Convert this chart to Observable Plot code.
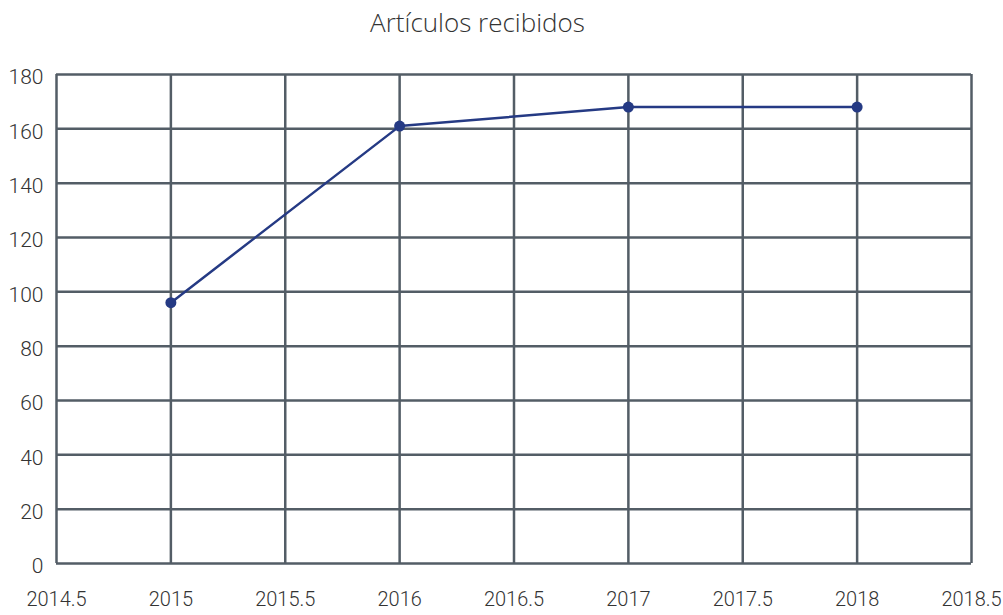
<!DOCTYPE html>
<html>
<head>
<meta charset="utf-8">
<script src="https://cdn.jsdelivr.net/npm/d3@7"></script>
<script src="https://cdn.jsdelivr.net/npm/@observablehq/plot@0.6"></script>
<style>
  body { margin: 0; background: #fff; }
  #title { position: absolute; top: 0; left: 0; width: 955px; height: 50px; text-align: center; font-family: "Open Sans", sans-serif; font-weight: 300; font-size: 26px; color: #333; line-height: 44px; }
  #chart { position: absolute; top: 50px; left: 0; }
  svg text { font-family: Roboto, "Open Sans", sans-serif; font-weight: 300; }
</style>
</head>
<body>
<div id="title">Artículos recibidos</div>
<div id="chart"></div>
<script>
const years = [2015, 2016, 2017, 2018];
const articles = [96, 161, 168, 168];
const xTicks = [2014.5, 2015, 2015.5, 2016, 2016.5, 2017, 2017.5, 2018, 2018.5];
const yTicks = [0, 20, 40, 60, 80, 100, 120, 140, 160, 180];

const data = years.map((y, i) => ({year: y, value: articles[i]}));
const grid = "#535d66";

const chart = Plot.plot({
  width: 1003,
  height: 565,
  marginLeft: 56,
  marginRight: 32,
  marginTop: 24,
  marginBottom: 52,
  style: {fontSize: "21px", color: "#333", background: "white"},
  x: {domain: [2014.5, 2018.5], label: null},
  y: {domain: [0, 180], label: null},
  marks: [
    Plot.ruleX(xTicks, {stroke: grid, strokeWidth: 2.5}),
    Plot.ruleY(yTicks, {stroke: grid, strokeWidth: 2.5}),
    Plot.axisY({ticks: yTicks, tickSize: 0, tickPadding: 13, dy: 3, fontSize: 21, label: null}),
    Plot.axisX({ticks: xTicks, tickFormat: d => String(d), tickSize: 0, tickPadding: 28, fontSize: 20, label: null}),
    Plot.line(data, {x: "year", y: "value", stroke: "#253a84", strokeWidth: 2.5}),
    Plot.dot(data, {x: "year", y: "value", fill: "#253a84", r: 5.5})
  ]
});
document.getElementById("chart").appendChild(chart);
</script>
</body>
</html>
